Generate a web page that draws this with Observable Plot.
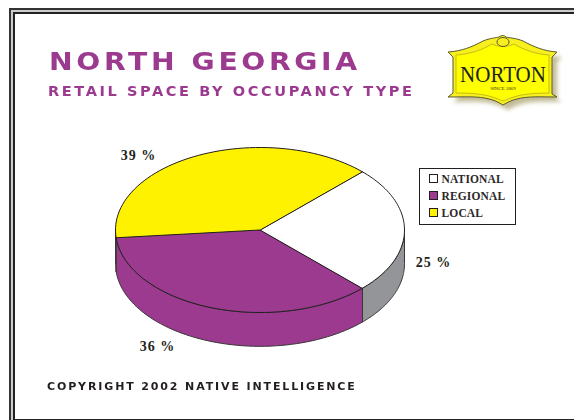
<!DOCTYPE html>
<html>
<head>
<meta charset="utf-8">
<script src="https://cdn.jsdelivr.net/npm/d3@7"></script>
<script src="https://cdn.jsdelivr.net/npm/@observablehq/plot@0.6"></script>
<style>
  html, body { margin: 0; padding: 0; background: #fff; }
  #page { position: relative; width: 574px; height: 420px; overflow: hidden; background: #fff; }
  #chart { position: absolute; left: 0; top: 0; }
  .frame { position: absolute; box-sizing: border-box; }
  .wide { position: absolute; white-space: nowrap; transform-origin: 0 0; font-family: "DejaVu Sans", sans-serif; font-weight: 700; }
  #legend { position: absolute; left: 419px; top: 168px; width: 95px; height: 55px; border: 1.5px solid #231f20; }
  #legend .row { position: absolute; left: 8.5px; display: flex; align-items: center; font: 700 11.5px "Liberation Serif", serif; color: #2b2829; letter-spacing: .15px; }
  #legend .swatch { width: 7px; height: 7px; border: 1px solid #231f20; margin-right: 4px; }
  #logo { position: absolute; left: 0; top: 0; }
</style>
</head>
<body>
<div id="page">
  <div id="chart"></div>
  <div class="frame" style="left:9px;top:8px;width:580px;height:420px;border:2px solid #333"></div>
  <div class="frame" style="left:11px;top:10px;width:580px;height:420px;border:2px solid #ccc"></div>
  <div class="frame" style="left:13px;top:12px;width:580px;height:408px;border-style:solid;border-width:2px 2px 1.5px 2px;border-color:#222"></div>
  <div class="wide" id="title" style="left:49px;top:47px;font-size:25px;color:#9b3a8f;letter-spacing:3.2px;transform:scaleX(1.13)">NORTH GEORGIA</div>
  <div class="wide" id="subtitle" style="left:48px;top:83px;font-size:13.5px;color:#9b3a8f;letter-spacing:2.4px;transform:scaleX(1.077)">RETAIL SPACE BY OCCUPANCY TYPE</div>
  <div class="wide" id="caption" style="left:47px;top:381px;font-size:10px;color:#231f20;letter-spacing:1.7px;transform:scaleX(1.1)">COPYRIGHT 2002 NATIVE INTELLIGENCE</div>
  <div id="legend"></div>
  <svg id="logo" width="574" height="420" viewBox="0 0 574 420">
    <defs>
      <filter id="soft" x="-20%" y="-20%" width="140%" height="140%"><feGaussianBlur stdDeviation="2.2"/></filter>
      <path id="badge" d="M448 52 C462 51 472 47 483 41 C490 38 496 38 499 37 C502 35 504 35 506 37 C509 38 516 38 523 41 C534 47 544 51 557 52 L552 57 L552 94 L557 97 C541 97 528 96 517 99 C512 100 508 102 503 105 C498 102 494 100 489 99 C478 96 465 97 448 97 L453 93 L453 57 Z"/>
    </defs>
    <use href="#badge" transform="translate(5,5)" fill="#a89f6a" opacity=".7" filter="url(#soft)"/>
    <use href="#badge" fill="#f7ef1e" stroke="#5c5a2e" stroke-width="1"/>
    <path d="M456 55 C470 54 482 50 492 44 C497 47 509 47 514 44 C524 50 536 54 549 55 L549 93 C536 93 522 94 514 97 C510 98 506 100 503 101 C500 100 496 98 492 97 C484 94 470 93 456 93 Z" fill="#ffff00" stroke="#c6bd14" stroke-width="1"/>
    <ellipse cx="503" cy="42" rx="6" ry="4.5" fill="#f7ef1e" stroke="#5c5a2e" stroke-width="1"/>
    <text x="503" y="82" text-anchor="middle" font-family="Liberation Serif" font-size="24" textLength="86" lengthAdjust="spacingAndGlyphs" fill="#231f20">NORTON</text>
    <text x="503" y="90" text-anchor="middle" font-family="Liberation Serif" font-size="5" fill="#3a3820">SINCE 1869</text>
  </svg>
</div>
<script>
// Occupancy shares, in percent, clockwise from the yellow/white boundary
const categories = ["NATIONAL", "REGIONAL", "LOCAL"];
const shares = [25, 36, 39];
const percentLabels = ["25 %", "36 %", "39 %"];
const topColors = ["#ffffff", "#9b3a8f", "#fff200"];
const wallColors = ["#939598", "#9b3a8f", "#fff200"];

const startAngle = 45;    // degrees clockwise from twelve o'clock
const thickness = 0.41;   // drop of the pie wall, in pie radii

const rad = (deg) => (deg * Math.PI) / 180;
const px = (deg) => Math.sin(rad(deg));
const py = (deg) => Math.cos(rad(deg));

// Turn the shares into angular extents
let running = startAngle;
const slices = categories.map((name, i) => {
  const a0 = running;
  const a1 = a0 + (shares[i] / 100) * 360;
  running = a1;
  return {name, a0, a1, i};
});

const arc = (a0, a1) => d3.range(0, 61).map((k) => a0 + ((a1 - a0) * k) / 60);

// Flat top faces
const topRows = slices.flatMap((s) => [
  {id: s.name, fill: topColors[s.i], x: 0, y: 0},
  ...arc(s.a0, s.a1).map((a) => ({id: s.name, fill: topColors[s.i], x: px(a), y: py(a)}))
]);

// Visible part of the wall: the rim between 90 and 270 degrees
const wallRows = slices.flatMap((s) => {
  const lo = Math.max(s.a0, 90);
  const hi = Math.min(s.a1, 270);
  if (hi <= lo) return [];
  const rim = arc(lo, hi);
  return [
    ...rim.map((a) => ({id: s.name, fill: wallColors[s.i], x: px(a), y: py(a)})),
    ...rim.slice().reverse().map((a) => ({id: s.name, fill: wallColors[s.i], x: px(a), y: py(a) - thickness}))
  ];
});

const labelRows = [
  {t: percentLabels[0], x: 1.20, y: -0.39},
  {t: percentLabels[1], x: -0.71, y: -1.41},
  {t: percentLabels[2], x: -0.84, y: 0.90}
];

const chart = Plot.plot({
  width: 574,
  height: 420,
  margin: 0,
  style: {background: "transparent", letterSpacing: "1px"},
  x: {domain: [-1, 1], range: [115, 404], axis: null},
  y: {domain: [1, -1], range: [147, 312], axis: null},
  marks: [
    Plot.line(wallRows, {x: "x", y: "y", z: "id", fill: "fill", stroke: "#3a3637", strokeWidth: 1, curve: "linear-closed"}),
    Plot.line(topRows, {x: "x", y: "y", z: "id", fill: "fill", stroke: "#231f20", strokeWidth: 1, curve: "linear-closed"}),
    Plot.text(labelRows, {x: "x", y: "y", text: "t", fontFamily: "Liberation Serif", fontWeight: 700, fontSize: 14, fill: "#231f20"})
  ]
});
document.getElementById("chart").appendChild(chart);

// Legend rows are built from the same categories and colours
const legend = d3.select("#legend");
categories.forEach((name, i) => {
  const row = legend.append("div").attr("class", "row").style("top", `${3.5 + i * 17}px`);
  row.append("span").attr("class", "swatch").style("background", topColors[i]);
  row.append("span").text(name);
});
</script>
</body>
</html>
